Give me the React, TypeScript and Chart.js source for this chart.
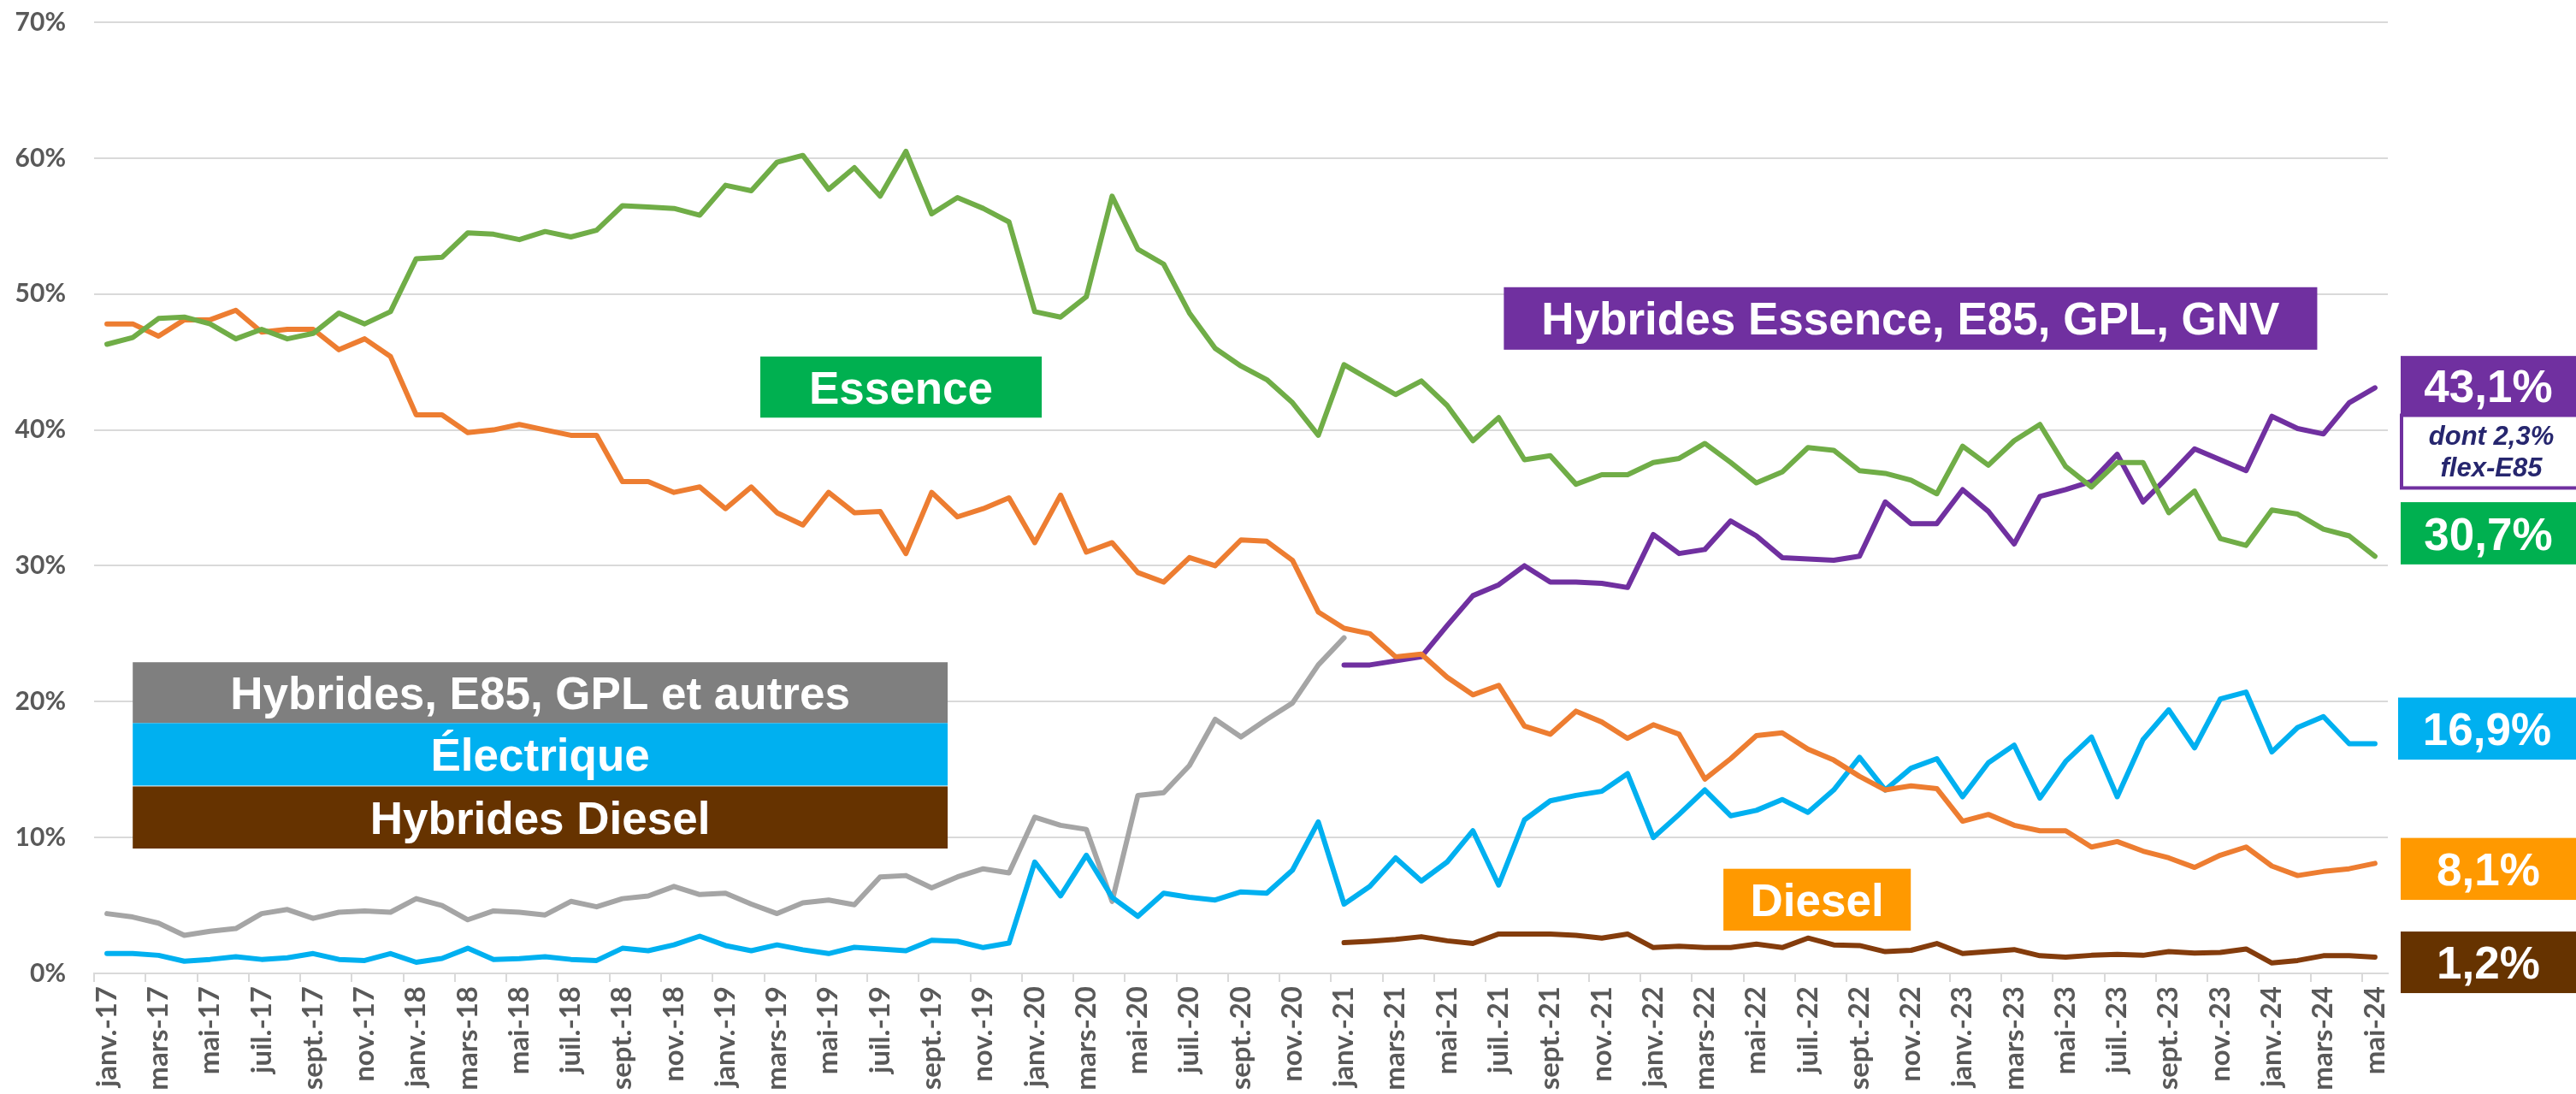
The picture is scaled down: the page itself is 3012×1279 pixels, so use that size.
import React, { useEffect, useRef } from 'react';
import { Chart, registerables } from 'chart.js';

Chart.register(...registerables);

// ---------- categories ----------
const MONTHS = ['janv.', 'févr.', 'mars', 'avr.', 'mai', 'juin', 'juil.', 'août', 'sept.', 'oct.', 'nov.', 'déc.'];
const YEARS = ['17', '18', '19', '20', '21', '22', '23', '24'];
const N_MONTHS = 89; // janv.-17 .. mai-24
const CATEGORIES: string[] = [];
for (const y of YEARS) for (const m of MONTHS) if (CATEGORIES.length < N_MONTHS) CATEGORIES.push(`${m}-${y}`);

// ---------- series (% of registrations) ----------
const ESSENCE = [
  46.3, 46.8, 48.2, 48.3, 47.8, 46.7, 47.4, 46.7, 47.1, 48.6, 47.8, 48.7,
  52.6, 52.7, 54.5, 54.4, 54.0, 54.6, 54.2, 54.7, 56.5, 56.4, 56.3, 55.8,
  58.0, 57.6, 59.7, 60.2, 57.7, 59.3, 57.2, 60.5, 55.9, 57.1, 56.3, 55.3,
  48.7, 48.3, 49.8, 57.2, 53.3, 52.2, 48.6, 46.0, 44.7, 43.7, 42.0, 39.6,
  44.8, 43.7, 42.6, 43.6, 41.8, 39.2, 40.9, 37.8, 38.1, 36.0, 36.7, 36.7,
  37.6, 37.9, 39.0, 37.6, 36.1, 36.9, 38.7, 38.5, 37.0, 36.8, 36.3, 35.3,
  38.8, 37.4, 39.2, 40.4, 37.3, 35.8, 37.6, 37.6, 33.9, 35.5, 32.0, 31.5,
  34.1, 33.8, 32.7, 32.2, 30.7,
];
const DIESEL = [
  47.8, 47.8, 46.9, 48.1, 48.1, 48.8, 47.2, 47.4, 47.4, 45.9, 46.7, 45.4,
  41.1, 41.1, 39.8, 40.0, 40.4, 40.0, 39.6, 39.6, 36.2, 36.2, 35.4, 35.8,
  34.2, 35.8, 33.9, 33.0, 35.4, 33.9, 34.0, 30.9, 35.4, 33.6, 34.2, 35.0,
  31.7, 35.2, 31.0, 31.7, 29.5, 28.8, 30.6, 30.0, 31.9, 31.8, 30.4, 26.6,
  25.4, 25.0, 23.3, 23.5, 21.8, 20.5, 21.2, 18.2, 17.6, 19.3, 18.5, 17.3,
  18.3, 17.6, 14.3, 15.8, 17.5, 17.7, 16.5, 15.7, 14.5, 13.5, 13.8, 13.6,
  11.2, 11.7, 10.9, 10.5, 10.5, 9.3, 9.7, 9.0, 8.5, 7.8, 8.7, 9.3,
  7.9, 7.2, 7.5, 7.7, 8.1,
];
const HYBRIDES_AUTRES_OLD = [
  4.4, 4.15, 3.7, 2.8, 3.1, 3.3, 4.4, 4.7, 4.05, 4.5, 4.6, 4.5,
  5.5, 5.0, 3.95, 4.6, 4.5, 4.3, 5.3, 4.9, 5.5, 5.7, 6.4, 5.8,
  5.9, 5.1, 4.4, 5.2, 5.4, 5.05, 7.1, 7.2, 6.3, 7.1, 7.7, 7.4,
  11.5, 10.9, 10.6, 5.3, 13.1, 13.3, 15.3, 18.7, 17.4, 18.7, 19.9, 22.7,
  24.7,
];
const ELECTRIQUE = [
  1.46, 1.46, 1.33, 0.9, 1.03, 1.23, 1.03, 1.15, 1.46, 1.03, 0.95, 1.46,
  0.82, 1.1, 1.85, 1.03, 1.08, 1.23, 1.03, 0.95, 1.85, 1.67, 2.1, 2.74,
  2.05, 1.67, 2.1, 1.74, 1.46, 1.92, 1.8, 1.67, 2.44, 2.36, 1.9, 2.23,
  8.2, 5.7, 8.7, 5.6, 4.2, 5.9, 5.6, 5.4, 6.0, 5.9, 7.6, 11.15,
  5.1, 6.4, 8.5, 6.8, 8.2, 10.5, 6.5, 11.3, 12.7, 13.1, 13.4, 14.7,
  10.0, 11.7, 13.5, 11.6, 12.0, 12.8, 11.85, 13.5, 15.9, 13.5, 15.1, 15.8,
  13.0, 15.5, 16.8, 12.9, 15.6, 17.4, 13.0, 17.2, 19.4, 16.6, 20.2, 20.7,
  16.3, 18.1, 18.9, 16.9, 16.9,
];
// from janv.-21
const HYBRIDES_ESSENCE_NEW = [
  22.7, 22.7, 23.0, 23.3, 25.6, 27.8, 28.6, 30.0, 28.8, 28.8, 28.7, 28.4,
  32.3, 30.9, 31.2, 33.3, 32.2, 30.6, 30.5, 30.4, 30.7, 34.7, 33.1, 33.1,
  35.6, 34.0, 31.6, 35.1, 35.6, 36.2, 38.2, 34.7, 36.6, 38.6, 37.8, 37.0,
  41.0, 40.1, 39.7, 42.0, 43.1,
];
const HYBRIDES_DIESEL_NEW = [
  2.26, 2.36, 2.5, 2.7, 2.4, 2.2, 2.9, 2.9, 2.9, 2.8, 2.6, 2.9,
  1.9, 2.0, 1.9, 1.9, 2.15, 1.9, 2.6, 2.1, 2.05, 1.6, 1.7, 2.2,
  1.46, 1.6, 1.75, 1.3, 1.2, 1.33, 1.4, 1.33, 1.6, 1.5, 1.54, 1.8,
  0.77, 0.95, 1.3, 1.3, 1.2,
];
const NEW_SERIES_START = 48; // janv.-21

const Y_TICKS = [0, 10, 20, 30, 40, 50, 60, 70];

const padEnd = (arr: number[]) => [...arr, ...Array(N_MONTHS - arr.length).fill(null)];
const padStart = (arr: number[]) => [...Array(NEW_SERIES_START).fill(null), ...arr];

// ---------- annotation boxes (positions in category index / % units) ----------
const BOX_FONT_SIZE = 53;
const BOX_FONT = `bold ${BOX_FONT_SIZE}px "Liberation Sans", Arial, sans-serif`;

const PLOT_BOXES = [
  { text: 'Hybrides, E85, GPL et autres', bg: '#7f7f7f', x0: 1.0, x1: 32.62, y0: 22.9, y1: 18.42 },
  { text: 'Électrique', bg: '#00b0f0', x0: 1.0, x1: 32.62, y0: 18.42, y1: 13.82 },
  { text: 'Hybrides Diesel', bg: '#663300', x0: 1.0, x1: 32.62, y0: 13.76, y1: 9.19 },
  { text: 'Essence', bg: '#00b050', x0: 25.35, x1: 36.27, y0: 45.4, y1: 40.9 },
  { text: 'Hybrides Essence, E85, GPL, GNV', bg: '#7030a0', x0: 54.2, x1: 85.76, y0: 50.5, y1: 45.9 },
  { text: 'Diesel', bg: '#ff9900', x0: 62.72, x1: 69.99, y0: 7.7, y1: 3.15 },
];

const SIDE_BOXES = [
  { text: '43,1%', bg: '#7030a0', y0: 45.44, y1: 41.0, inset: 15 },
  { text: '30,7%', bg: '#00b050', y0: 34.68, y1: 30.1, inset: 15 },
  { text: '16,9%', bg: '#00b0f0', y0: 20.3, y1: 15.73, inset: 12 },
  { text: '8,1%', bg: '#ff9900', y0: 9.97, y1: 5.41, inset: 15 },
  { text: '1,2%', bg: '#663300', y0: 3.08, y1: -1.45, inset: 15 },
];
const NOTE_BOX = { lines: ['dont 2,3%', 'flex-E85'], border: '#7030a0', color: '#26266e', y0: 41.2, y1: 35.6, inset: 14 };

const boxesPlugin = {
  id: 'boxes',
  afterDatasetsDraw(chart: any) {
    const ctx = chart.ctx;
    const xs = chart.scales.x;
    const ys = chart.scales.y;
    ctx.save();
    ctx.textAlign = 'center';
    ctx.textBaseline = 'alphabetic';
    const drawBox = (l: number, r: number, t: number, b: number, bg: string, text: string) => {
      ctx.fillStyle = bg;
      ctx.fillRect(l, t, r - l, b - t);
      ctx.fillStyle = '#ffffff';
      ctx.font = BOX_FONT;
      ctx.fillText(text, (l + r) / 2, (t + b) / 2 + BOX_FONT_SIZE * 0.36);
    };
    for (const bx of PLOT_BOXES) {
      drawBox(xs.getPixelForValue(bx.x0), xs.getPixelForValue(bx.x1), ys.getPixelForValue(bx.y0), ys.getPixelForValue(bx.y1), bx.bg, bx.text);
    }
    const right = chart.width;
    {
      const l = chart.chartArea.right + NOTE_BOX.inset;
      const t = ys.getPixelForValue(NOTE_BOX.y0);
      const b = ys.getPixelForValue(NOTE_BOX.y1);
      ctx.fillStyle = '#ffffff';
      ctx.fillRect(l, t, right - l, b - t);
      ctx.strokeStyle = NOTE_BOX.border;
      ctx.lineWidth = 4;
      ctx.strokeRect(l + 2, t + 2, right - l, b - t - 4);
      ctx.fillStyle = NOTE_BOX.color;
      ctx.font = 'italic bold 31px "Liberation Sans", Arial, sans-serif';
      const h = b - t;
      ctx.fillText(NOTE_BOX.lines[0], (l + right) / 2 + 4, t + h * 0.41);
      ctx.fillText(NOTE_BOX.lines[1], (l + right) / 2 + 4, t + h * 0.83);
    }
    for (const bx of SIDE_BOXES) {
      drawBox(chart.chartArea.right + bx.inset, right, ys.getPixelForValue(bx.y0), ys.getPixelForValue(bx.y1), bx.bg, bx.text);
    }
    ctx.restore();
  },
};

const X_TICK_FONT = { family: 'Lato, "DejaVu Sans", sans-serif', size: 33, weight: 'bold' as const };
const Y_TICK_FONT = { family: 'Lato, "DejaVu Sans", sans-serif', size: 30, weight: 'bold' as const };
const TICK_COLOR = '#595959';
const GRID_COLOR = '#d9d9d9';

export default function App() {
  const ref = useRef<HTMLCanvasElement>(null);
  useEffect(() => {
    document.body.style.margin = '0';
    const line = (label: string, data: (number | null)[], color: string) => ({
      label,
      data,
      borderColor: color,
      backgroundColor: color,
      borderWidth: 6,
      pointRadius: 0,
      pointHoverRadius: 0,
      tension: 0,
      spanGaps: false,
      borderJoinStyle: 'round' as const,
      borderCapStyle: 'round' as const,
      fill: false,
    });
    const chart = new Chart(ref.current as HTMLCanvasElement, {
      type: 'line',
      data: {
        labels: CATEGORIES,
        datasets: [
          line('Essence', ESSENCE, '#70ad47'),
          line('Diesel', DIESEL, '#ed7d31'),
          line('Hybrides Essence, E85, GPL, GNV', padStart(HYBRIDES_ESSENCE_NEW), '#7030a0'),
          line('Électrique', ELECTRIQUE, '#00b0f0'),
          line('Hybrides, E85, GPL et autres', padEnd(HYBRIDES_AUTRES_OLD), '#a5a5a5'),
          line('Hybrides Diesel', padStart(HYBRIDES_DIESEL_NEW), '#843c0c'),
        ],
      },
      options: {
        responsive: false,
        animation: false,
        devicePixelRatio: 1,
        layout: { padding: { top: 26, right: 220, left: 0, bottom: 0 } },
        plugins: { legend: { display: false }, tooltip: { enabled: false } },
        events: [],
        scales: {
          x: {
            type: 'category',
            offset: true,
            afterFit: (s: any) => { s.height = 141; },
            border: { display: true, color: GRID_COLOR, width: 2 },
            grid: {
              offset: true,
              drawOnChartArea: false,
              drawTicks: true,
              tickLength: 10,
              lineWidth: 2,
              color: (c: any) => (c.index % 2 === 0 ? GRID_COLOR : 'rgba(0,0,0,0)'),
            },
            ticks: {
              autoSkip: false,
              maxRotation: 90,
              minRotation: 90,
              padding: 5,
              color: TICK_COLOR,
              font: X_TICK_FONT,
              callback: (_v: any, i: number) => (i % 2 === 0 ? CATEGORIES[i] : ''),
            },
          },
          y: {
            min: Y_TICKS[0],
            max: Y_TICKS[Y_TICKS.length - 1],
            afterFit: (s: any) => { s.width = 110; s.paddingTop = 0; s.paddingBottom = 0; },
            afterBuildTicks: (s: any) => { s.ticks = Y_TICKS.map((v) => ({ value: v })); },
            border: { display: false },
            grid: { color: GRID_COLOR, lineWidth: 2, drawTicks: false },
            ticks: {
              padding: 33,
              color: TICK_COLOR,
              font: Y_TICK_FONT,
              callback: (v: any) => `${v}%`,
            },
          },
        },
      },
      plugins: [boxesPlugin],
    });
    return () => chart.destroy();
  }, []);
  return (
    <div style={{ width: 3012, height: 1279, background: '#ffffff', overflow: 'hidden' }}>
      <canvas ref={ref} width={3012} height={1279} style={{ display: 'block' }} />
    </div>
  );
}
